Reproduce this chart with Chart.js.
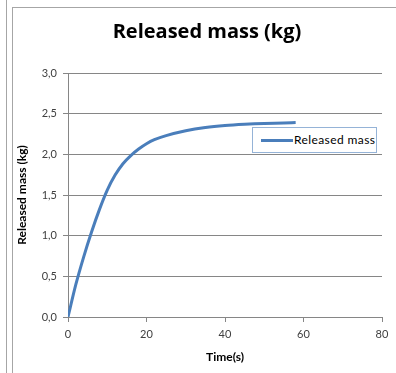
<!DOCTYPE html>
<html>
<head>
<meta charset="utf-8">
<script src="https://cdn.jsdelivr.net/npm/chart.js@4"></script>
<style>
  body { margin: 0; background: #fff; }
  #wrap { position: relative; width: 396px; height: 373px; overflow: hidden; }
  #myChart { position: absolute; left: 0; top: 0; }
  .sep { position: absolute; left: 6px; top: 0; width: 1px; height: 373px; background: #a6a6a6; }
  .frame { position: absolute; left: 12px; top: 7px; width: 400px; height: 400px;
           border-left: 1px solid #a6a6a6; border-top: 1px solid #a6a6a6; }
  #title { position: absolute; left: 0; top: 20px; width: 414px; text-align: center;
           font: bold 20px "Open Sans", sans-serif; line-height: 21px; color: #000; }
  #legend { position: absolute; left: 252px; top: 127px; width: 123px; height: 24px;
            border: 1px solid #95b3d7; background: #fff; font: 12px Lato, sans-serif; color: #000; }
  #legend .swatch { position: absolute; left: 8px; top: 11px; width: 32px; height: 3px; background: #4a7ebb; }
  #legend .label { position: absolute; left: 41px; top: 4px; white-space: nowrap; letter-spacing: 0.4px; }
</style>
</head>
<body>
<div id="wrap">
  <div class="sep"></div>
  <div class="frame"></div>
  <canvas id="myChart" width="396" height="373"></canvas>
  <div id="title">Released mass (kg)</div>
  <div id="legend"><div class="swatch"></div><div class="label">Released mass</div></div>
</div>
<script>
const ctx = document.getElementById('myChart');

// time (s) and released mass (kg)
const times = [0, 2, 4, 6, 8, 10, 12, 14, 16, 18, 20, 22, 25, 30, 35, 40, 45, 50, 55, 58];
const mass  = [0, 0.40, 0.74, 1.045, 1.32, 1.56, 1.745, 1.885, 1.985, 2.065, 2.13, 2.18, 2.23, 2.29, 2.33, 2.355, 2.37, 2.38, 2.385, 2.39];
const yTickLabels = ['0,0', '0,5', '1,0', '1,5', '2,0', '2,5', '3,0'];
const xTickLabels = ['0', '20', '40', '60', '80'];
const seriesName = 'Released mass';

const gridColor = '#868686';
const tickColor = '#404040';

new Chart(ctx, {
  type: 'scatter',
  data: {
    datasets: [{
      label: seriesName,
      data: times.map((t, i) => ({ x: t, y: mass[i] })),
      showLine: true,
      borderColor: '#4a7ebb',
      borderWidth: 3,
      pointRadius: 0,
      cubicInterpolationMode: 'monotone'
    }]
  },
  options: {
    responsive: false,
    animation: false,
    devicePixelRatio: 1,
    layout: { padding: { left: 12, right: 14, top: 73, bottom: 6 } },
    plugins: {
      legend: { display: false },
      tooltip: { enabled: false },
      title: { display: false }
    },
    scales: {
      x: {
        type: 'linear',
        min: 0,
        max: 80,
        afterFit: (scale) => { scale.height = 50; },
        ticks: {
          stepSize: 20,
          color: tickColor,
          font: { family: 'Lato', size: 11 },
          padding: 6,
          maxRotation: 0,
          callback: (v, i) => xTickLabels[i]
        },
        grid: { drawOnChartArea: false, tickLength: 5, color: gridColor },
        border: { color: gridColor, width: 1 },
        title: {
          display: true,
          text: 'Time(s)',
          color: '#000',
          font: { family: 'Lato', size: 12, weight: 'bold' },
          padding: { top: 0, bottom: 3 }
        }
      },
      y: {
        min: 0,
        max: 3,
        afterFit: (scale) => { scale.width = 56; },
        ticks: {
          stepSize: 0.5,
          color: tickColor,
          font: { family: 'Lato', size: 11 },
          padding: 6,
          callback: (v, i) => yTickLabels[i]
        },
        grid: { color: gridColor, tickLength: 5 },
        border: { color: gridColor, width: 1 },
        title: {
          display: true,
          text: 'Released mass (kg)',
          color: '#000',
          font: { family: 'Lato', size: 12, weight: 'bold' },
          padding: { top: 3, bottom: 0 }
        }
      }
    }
  }
});
</script>
</body>
</html>
